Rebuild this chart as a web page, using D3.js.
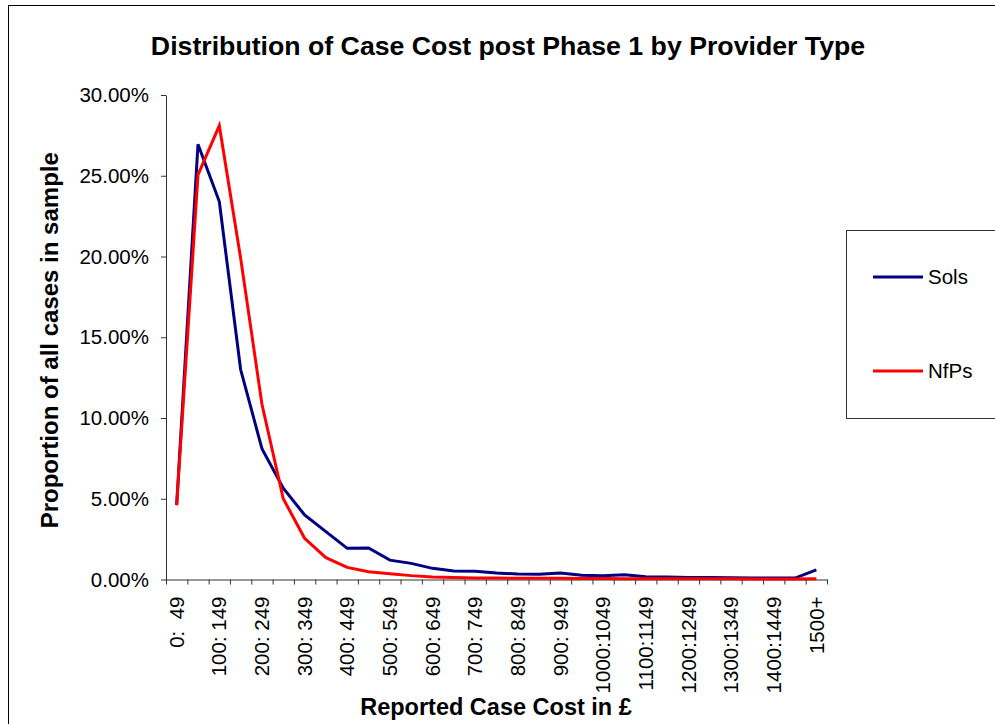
<!DOCTYPE html>
<html>
<head>
<meta charset="utf-8">
<script src="https://cdn.jsdelivr.net/npm/d3@7"></script>
<style>
  body { margin: 0; background: #fff; }
  svg { display: block; font-family: Arial, "Liberation Sans", sans-serif; }
</style>
</head>
<body>
<div id="chart"></div>
<script>
// cost bands (x categories)
const categories = [
  "0:  49", "50:  99", "100: 149", "150: 199", "200: 249", "250: 299", "300: 349", "350: 399",
  "400: 449", "450: 499", "500: 549", "550: 599", "600: 649", "650: 699", "700: 749", "750: 799",
  "800: 849", "850: 899", "900: 949", "950: 999", "1000:1049", "1050:1099", "1100:1149", "1150:1199",
  "1200:1249", "1250:1299", "1300:1349", "1350:1399", "1400:1449", "1450:1499", "1500+"
];

// proportion of cases, in percent
const sols = [4.6, 26.95, 23.4, 13.0, 8.1, 5.65, 4.0, 2.96, 1.93, 1.95, 1.2, 1.0, 0.69, 0.53, 0.51, 0.4,
  0.34, 0.32, 0.4, 0.26, 0.23, 0.3, 0.17, 0.15, 0.13, 0.12, 0.11, 0.1, 0.09, 0.09, 0.6];
const nfps = [4.6, 25.05, 28.1, 19.9, 10.85, 5.0, 2.55, 1.35, 0.75, 0.48, 0.36, 0.24, 0.15, 0.12, 0.1, 0.09,
  0.08, 0.07, 0.07, 0.06, 0.06, 0.05, 0.05, 0.05, 0.04, 0.04, 0.04, 0.03, 0.03, 0.03, 0.05];

const yTicks = [0, 5, 10, 15, 20, 25, 30];

const series = [
  { name: "Sols", values: sols, color: "#000080" },
  { name: "NfPs", values: nfps, color: "#ff0000" }
];

const width = 995, height = 724;
const plot = { left: 166, right: 827, top: 95, bottom: 579.5 };

const svg = d3.select("#chart").append("svg")
  .attr("width", width)
  .attr("height", height);

// outer chart border
svg.append("rect")
  .attr("x", 8.5).attr("y", 5.5)
  .attr("width", 990).attr("height", 740)
  .attr("fill", "none")
  .attr("stroke", "#000")
  .attr("stroke-width", 1);

svg.append("text")
  .attr("x", 508).attr("y", 55)
  .attr("text-anchor", "middle")
  .style("font-size", "26.7px").style("font-weight", "bold")
  .text("Distribution of Case Cost post Phase 1 by Provider Type");

const x = d3.scaleBand().domain(categories).range([plot.left, plot.right]).padding(0);
const xEdge = d3.scaleLinear().domain([0, categories.length]).range([plot.left, plot.right]);
const y = d3.scaleLinear().domain([0, 30]).range([plot.bottom, plot.top]);

// y axis
const yAxis = svg.append("g")
  .attr("transform", "translate(" + plot.left + ",0)")
  .call(d3.axisLeft(y).tickValues(yTicks).tickSize(5).tickSizeOuter(0)
    .tickFormat(d => d3.format(".2f")(d) + "%"));
yAxis.select(".domain").attr("stroke", "#333");
yAxis.selectAll(".tick line").attr("stroke", "#333");
yAxis.selectAll(".tick text")
  .attr("x", -17)
  .attr("fill", "#000")
  .style("font-size", "20.5px");

// x axis: tick marks at band edges
const xAxis = svg.append("g")
  .attr("transform", "translate(0," + plot.bottom + ")")
  .call(d3.axisBottom(xEdge).tickValues(d3.range(0, categories.length + 1)).tickSize(5)
    .tickSizeOuter(0).tickFormat(""));
xAxis.select(".domain").attr("stroke", "#333");
xAxis.selectAll(".tick line").attr("stroke", "#333");

// x labels, every other band, rotated
const xLabels = svg.append("g")
  .attr("transform", "translate(0," + plot.bottom + ")")
  .call(d3.axisBottom(x).tickValues(categories.filter((c, i) => i % 2 === 0)).tickSize(0));
xLabels.select(".domain").remove();
xLabels.selectAll(".tick text")
  .attr("fill", "#000")
  .style("font-size", "20.5px")
  .attr("text-anchor", "end")
  .attr("transform", "rotate(-90)")
  .attr("x", -17)
  .attr("y", 0)
  .attr("dy", "0.35em")
  .style("white-space", "pre")
  .attr("xml:space", "preserve");

// axis titles
svg.append("text")
  .attr("transform", "translate(58," + ((plot.top + plot.bottom) / 2 + 3) + ") rotate(-90)")
  .attr("text-anchor", "middle")
  .style("font-size", "24px").style("font-weight", "bold")
  .text("Proportion of all cases in sample");

svg.append("text")
  .attr("x", 496).attr("y", 715)
  .attr("text-anchor", "middle")
  .style("font-size", "23.5px").style("font-weight", "bold")
  .text("Reported Case Cost in £");

// lines
const line = d3.line()
  .x((d, i) => x(categories[i]) + x.bandwidth() / 2)
  .y(d => y(d));

svg.selectAll(".series")
  .data(series)
  .enter().append("path")
  .attr("class", "series")
  .attr("d", d => line(d.values))
  .attr("fill", "none")
  .attr("stroke", d => d.color)
  .attr("stroke-width", 3)
  .attr("stroke-linejoin", "miter");

// legend
const legend = svg.append("g");
legend.append("rect")
  .attr("x", 846.5).attr("y", 230.5)
  .attr("width", 160).attr("height", 188)
  .attr("fill", "#fff")
  .attr("stroke", "#333");

const items = legend.selectAll(".item")
  .data(series)
  .enter().append("g")
  .attr("class", "item")
  .attr("transform", (d, i) => "translate(0," + (277 + i * 94) + ")");
items.append("line")
  .attr("x1", 873).attr("x2", 923)
  .attr("stroke", d => d.color)
  .attr("stroke-width", 3);
items.append("text")
  .attr("x", 928).attr("dy", "0.35em")
  .style("font-size", "20.5px")
  .text(d => d.name);
</script>
</body>
</html>
